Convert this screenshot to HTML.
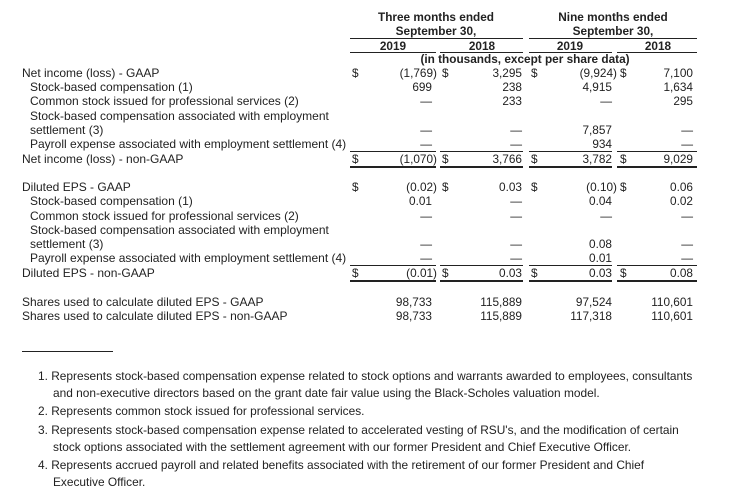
<!DOCTYPE html>
<html><head><meta charset="utf-8"><style>
body{margin:0;width:737px;height:501px;background:#fff;position:relative;font-family:"Liberation Sans",Arial,sans-serif;font-size:11.8px;color:#222;overflow:hidden}
div{position:absolute;white-space:nowrap;line-height:14px}
.b{font-weight:bold}
.c{transform:translateX(-50%)}
.r{text-align:right}
.ln{height:1px;background:#222}
.tk{height:2px;background:#222}
.fn{font-size:11.9px;line-height:16px}
.lb{font-size:12px}
</style></head><body>
<div class="b c" style="left:436px;top:10px">Three months ended</div>
<div class="b c" style="left:436px;top:24px">September 30,</div>
<div class="b c" style="left:613px;top:10px">Nine months ended</div>
<div class="b c" style="left:613px;top:24px">September 30,</div>
<div class="ln" style="left:350px;top:38px;width:173px"></div>
<div class="ln" style="left:529px;top:38px;width:168px"></div>
<div class="b c" style="left:393px;top:39px">2019</div>
<div class="b c" style="left:482px;top:39px">2018</div>
<div class="b c" style="left:570px;top:39px">2019</div>
<div class="b c" style="left:658px;top:39px">2018</div>
<div class="ln" style="left:350px;top:52px;width:86px"></div>
<div class="ln" style="left:440px;top:52px;width:83px"></div>
<div class="ln" style="left:529px;top:52px;width:83px"></div>
<div class="ln" style="left:617px;top:52px;width:80px"></div>
<div class="b c" style="left:525px;top:52px">(in thousands, except per share data)</div>

<div class="lb" style="left:22px;top:66px">Net income (loss) - GAAP</div>
<div class="lb" style="left:30px;top:80px">Stock-based compensation (1)</div>
<div class="lb" style="left:30px;top:94px">Common stock issued for professional services (2)</div>
<div class="lb" style="left:30px;top:109px">Stock-based compensation associated with employment</div>
<div class="lb" style="left:30px;top:123px">settlement (3)</div>
<div class="lb" style="left:30px;top:137px">Payroll expense associated with employment settlement (4)</div>
<div class="lb" style="left:22px;top:152px">Net income (loss) - non-GAAP</div>

<div style="left:352px;top:66px">$</div><div class="r" style="right:300px;top:66px">(1,769)</div>
<div style="left:442px;top:66px">$</div><div class="r" style="right:215px;top:66px">3,295</div>
<div style="left:531px;top:66px">$</div><div class="r" style="right:120px;top:66px">(9,924)</div>
<div style="left:620px;top:66px">$</div><div class="r" style="right:44px;top:66px">7,100</div>

<div class="r" style="right:305px;top:80px">699</div>
<div class="r" style="right:215px;top:80px">238</div>
<div class="r" style="right:125px;top:80px">4,915</div>
<div class="r" style="right:44px;top:80px">1,634</div>

<div class="r" style="right:305px;top:94px">—</div>
<div class="r" style="right:215px;top:94px">233</div>
<div class="r" style="right:125px;top:94px">—</div>
<div class="r" style="right:44px;top:94px">295</div>

<div class="r" style="right:305px;top:123px">—</div>
<div class="r" style="right:215px;top:123px">—</div>
<div class="r" style="right:125px;top:123px">7,857</div>
<div class="r" style="right:44px;top:123px">—</div>

<div class="r" style="right:305px;top:137px">—</div>
<div class="r" style="right:215px;top:137px">—</div>
<div class="r" style="right:125px;top:137px">934</div>
<div class="r" style="right:44px;top:137px">—</div>

<div class="ln" style="left:350px;top:151px;width:86px"></div>
<div class="ln" style="left:440px;top:151px;width:83px"></div>
<div class="ln" style="left:529px;top:151px;width:83px"></div>
<div class="ln" style="left:617px;top:151px;width:80px"></div>
<div style="left:352px;top:152px">$</div><div class="r" style="right:300px;top:152px">(1,070)</div>
<div style="left:442px;top:152px">$</div><div class="r" style="right:215px;top:152px">3,766</div>
<div style="left:531px;top:152px">$</div><div class="r" style="right:125px;top:152px">3,782</div>
<div style="left:620px;top:152px">$</div><div class="r" style="right:44px;top:152px">9,029</div>
<div class="tk" style="left:350px;top:166px;width:86px"></div>
<div class="tk" style="left:440px;top:166px;width:83px"></div>
<div class="tk" style="left:529px;top:166px;width:83px"></div>
<div class="tk" style="left:617px;top:166px;width:80px"></div>

<div class="lb" style="left:22px;top:180px">Diluted EPS - GAAP</div>
<div class="lb" style="left:30px;top:194px">Stock-based compensation (1)</div>
<div class="lb" style="left:30px;top:209px">Common stock issued for professional services (2)</div>
<div class="lb" style="left:30px;top:223px">Stock-based compensation associated with employment</div>
<div class="lb" style="left:30px;top:237px">settlement (3)</div>
<div class="lb" style="left:30px;top:251px">Payroll expense associated with employment settlement (4)</div>
<div class="lb" style="left:22px;top:266px">Diluted EPS - non-GAAP</div>

<div style="left:352px;top:180px">$</div><div class="r" style="right:300px;top:180px">(0.02)</div>
<div style="left:442px;top:180px">$</div><div class="r" style="right:215px;top:180px">0.03</div>
<div style="left:531px;top:180px">$</div><div class="r" style="right:120px;top:180px">(0.10)</div>
<div style="left:620px;top:180px">$</div><div class="r" style="right:44px;top:180px">0.06</div>

<div class="r" style="right:305px;top:194px">0.01</div>
<div class="r" style="right:215px;top:194px">—</div>
<div class="r" style="right:125px;top:194px">0.04</div>
<div class="r" style="right:44px;top:194px">0.02</div>

<div class="r" style="right:305px;top:209px">—</div>
<div class="r" style="right:215px;top:209px">—</div>
<div class="r" style="right:125px;top:209px">—</div>
<div class="r" style="right:44px;top:209px">—</div>

<div class="r" style="right:305px;top:237px">—</div>
<div class="r" style="right:215px;top:237px">—</div>
<div class="r" style="right:125px;top:237px">0.08</div>
<div class="r" style="right:44px;top:237px">—</div>

<div class="r" style="right:305px;top:251px">—</div>
<div class="r" style="right:215px;top:251px">—</div>
<div class="r" style="right:125px;top:251px">0.01</div>
<div class="r" style="right:44px;top:251px">—</div>

<div class="ln" style="left:350px;top:265px;width:86px"></div>
<div class="ln" style="left:440px;top:265px;width:83px"></div>
<div class="ln" style="left:529px;top:265px;width:83px"></div>
<div class="ln" style="left:617px;top:265px;width:80px"></div>
<div style="left:352px;top:266px">$</div><div class="r" style="right:300px;top:266px">(0.01)</div>
<div style="left:442px;top:266px">$</div><div class="r" style="right:215px;top:266px">0.03</div>
<div style="left:531px;top:266px">$</div><div class="r" style="right:125px;top:266px">0.03</div>
<div style="left:620px;top:266px">$</div><div class="r" style="right:44px;top:266px">0.08</div>
<div class="tk" style="left:350px;top:280px;width:86px"></div>
<div class="tk" style="left:440px;top:280px;width:83px"></div>
<div class="tk" style="left:529px;top:280px;width:83px"></div>
<div class="tk" style="left:617px;top:280px;width:80px"></div>

<div class="lb" style="left:22px;top:295px">Shares used to calculate diluted EPS - GAAP</div>
<div class="lb" style="left:22px;top:309px">Shares used to calculate diluted EPS - non-GAAP</div>
<div class="r" style="right:305px;top:295px">98,733</div>
<div class="r" style="right:215px;top:295px">115,889</div>
<div class="r" style="right:125px;top:295px">97,524</div>
<div class="r" style="right:44px;top:295px">110,601</div>
<div class="r" style="right:305px;top:309px">98,733</div>
<div class="r" style="right:215px;top:309px">115,889</div>
<div class="r" style="right:125px;top:309px">117,318</div>
<div class="r" style="right:44px;top:309px">110,601</div>

<div class="ln" style="left:22px;top:351px;width:91px"></div>

<div class="fn" style="left:38px;top:368px">1. Represents stock-based compensation expense related to stock options and warrants awarded to employees, consultants</div>
<div class="fn" style="left:53px;top:385px">and non-executive directors based on the grant date fair value using the Black-Scholes valuation model.</div>
<div class="fn" style="left:38px;top:403px">2. Represents common stock issued for professional services.</div>
<div class="fn" style="left:38px;top:422px">3. Represents stock-based compensation expense related to accelerated vesting of RSU's, and the modification of certain</div>
<div class="fn" style="left:53px;top:439px">stock options associated with the settlement agreement with our former President and Chief Executive Officer.</div>
<div class="fn" style="left:38px;top:457px">4. Represents accrued payroll and related benefits associated with the retirement of our former President and Chief</div>
<div class="fn" style="left:53px;top:474px">Executive Officer.</div>
</body></html>
